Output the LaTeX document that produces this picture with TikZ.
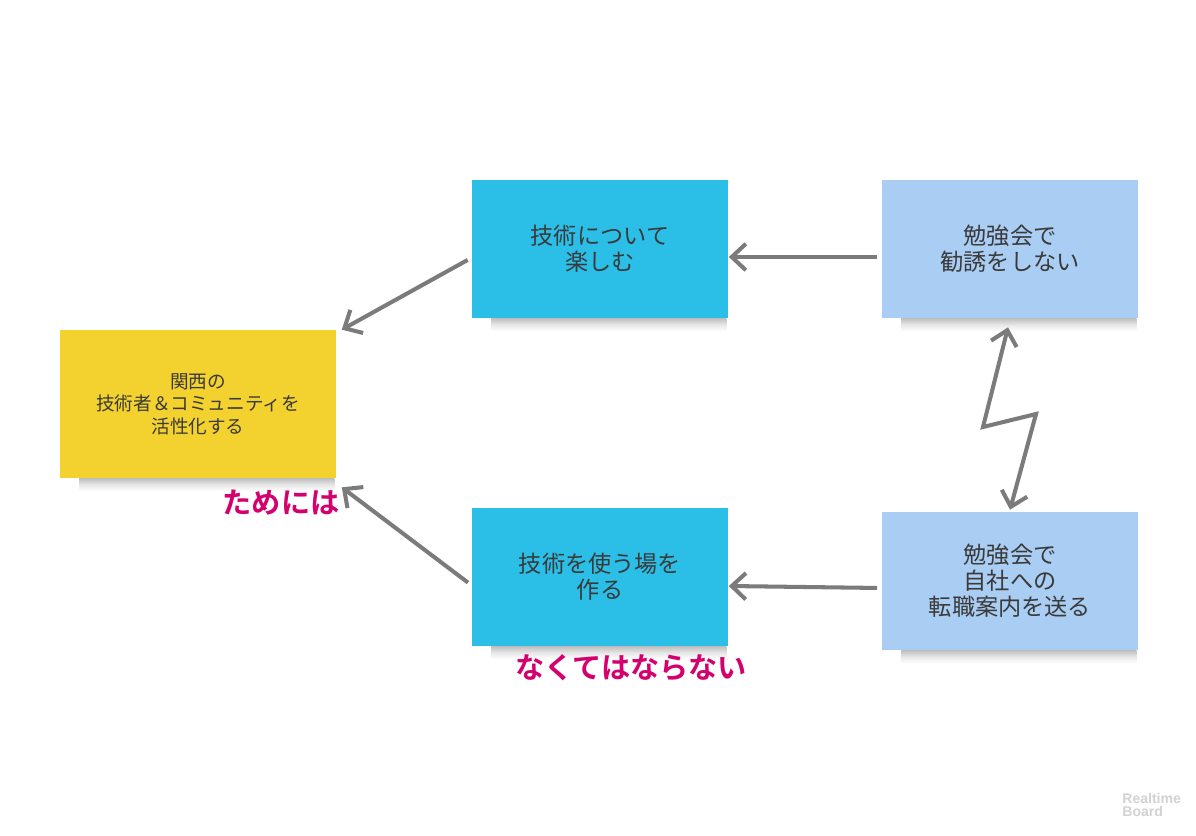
\documentclass[tikz,border=0pt]{standalone}
\usepackage{fontspec}
\setmainfont{Noto Sans CJK JP}
\newfontfamily\pinkfont{Noto Sans CJK JP Bold}
\newfontfamily\wmfont{Liberation Sans}
\usetikzlibrary{arrows.meta}

\definecolor{noteyellow}{HTML}{F3D12F}
\definecolor{noteblue}{HTML}{2BBFE7}
\definecolor{notelight}{HTML}{A9CDF3}
\definecolor{notetext}{HTML}{3A3A3A}
\definecolor{conngray}{HTML}{7B7B7B}
\definecolor{labelpink}{HTML}{D4006E}

\tikzset{
    note/.style={text=notetext, align=center, inner sep=0pt},
    yellownote/.style={note, fill=noteyellow, minimum width=5.54cm, minimum height=2.96cm,
        font=\fontsize{10.6}{12.8}\selectfont},
    bluenote/.style={note, fill=noteblue, minimum width=5.14cm, minimum height=2.76cm,
        font=\fontsize{13.2}{14.8}\selectfont},
    lightnote/.style={bluenote, fill=notelight},
    conn/.style={draw=conngray, line width=2.3pt, -{Straight Barb[length=8pt, width=15pt]},
        shorten <=0.08cm},
    pinklabel/.style={text=labelpink, font=\pinkfont\fontsize{16.6}{18}\selectfont},
    shadowbar/.style={top color=gray!50, bottom color=white, middle color=gray!18}
}

\begin{document}
\begin{tikzpicture}[x=0.02cm, y=-0.02cm]

        \useasboundingbox[fill=white] (0, 0) rectangle (1196, 835);

        %%draw the notes
        \node[yellownote] (goal) at (198, 404){関西の\\技術者＆コミュニティを\\活性化する};
        \node[bluenote] (enjoy) at (600, 249){技術について\\楽しむ};
        \node[bluenote] (place) at (600, 577){技術を使う場を\\作る};
        \node[lightnote] (norecruit) at (1010, 249){勉強会で\\勧誘をしない};
        \node[lightnote] (jobinfo) at (1010, 581){勉強会で\\自社への\\転職案内を送る};

        %%shadows under the notes
        \foreach \n in {goal, enjoy, place, norecruit, jobinfo}
            \shade[shadowbar] ([xshift=0.4cm]\n.south west) rectangle ([xshift=-0.05cm, yshift=-0.26cm]\n.south east);

        %%draw the arrows
        \draw[conn] ([yshift=-0.16cm]norecruit.west) to ([yshift=-0.16cm]enjoy.east);
        \draw[conn] ([yshift=-0.14cm]jobinfo.west) to ([yshift=-0.18cm]place.east);
        \draw[conn] ([yshift=-0.18cm]enjoy.west) to ([xshift=0.1cm]goal.north east);
        \draw[conn] ([yshift=-0.16cm]place.west) to ([xshift=0.1cm, yshift=-0.18cm]goal.south east);

        %%the zigzag between the right notes
        \coordinate (zzup) at (983, 427);
        \coordinate (zzdown) at (1036, 414);
        \draw[conn, {Straight Barb[length=8pt, width=15pt]}-{Straight Barb[length=8pt, width=15pt]}, shorten <=0pt]
            ([xshift=-0.04cm, yshift=-0.18cm]norecruit.south) -- (zzup) -- (zzdown) -- ([yshift=0.04cm]jobinfo.north);

        %%the labels
        \node[pinklabel] (forthat) at (281, 503){ためには};
        \node[pinklabel] (musthave) at (631, 668){なくてはならない};

        \node[anchor=north west, align=left, inner sep=0pt, text=gray!35,
            font=\wmfont\bfseries\fontsize{8}{7.4}\selectfont] (mark) at (1122, 793){Realtime\\Board};
\end{tikzpicture}
\end{document}
